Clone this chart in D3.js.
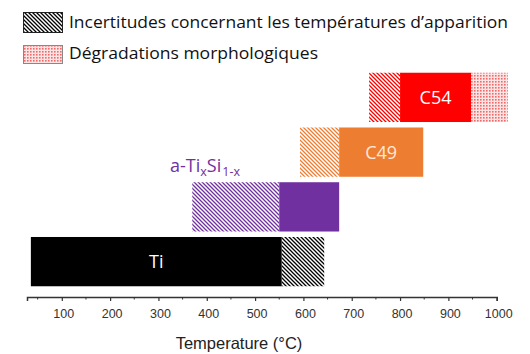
<!DOCTYPE html>
<html>
<head>
<meta charset="utf-8">
<script src="https://cdn.jsdelivr.net/npm/d3@7"></script>
<style>
  body { margin: 0; background: #fff; }
  svg { display: block; }
</style>
</head>
<body>
<svg></svg>
<script>
// phases, top to bottom
const phases = ["C54", "C49", "aTiSi", "Ti"];
const solid_start = [800, 674, 550, 36];
const solid_end = [947, 848, 674, 555];
const hatch_start = [736, 593, 370, 555];
const hatch_end = [800, 674, 550, 643];
const degrad_start = [947, null, null, null];
const degrad_end = [1023, null, null, null];
const colors = ["#ff0000", "#ed7d31", "#7030a0", "#000000"];

const major_ticks = [100, 200, 300, 400, 500, 600, 700, 800, 900, 1000];
const minor_ticks = [50, 150, 250, 350, 450, 550, 650, 750, 850, 950];
const x_label = "Temperature (°C)";
const legend_labels = ["Incertitudes concernant les températures d’apparition", "Dégradations morphologiques"];

const width = 530, height = 354;
const axis_y = 297;

const svg = d3.select("svg").attr("width", width).attr("height", height);
const defs = svg.append("defs");

// diagonal hatch "\" for each colour
colors.forEach((c, i) => {
  const p = defs.append("pattern")
    .attr("id", "hatch" + i)
    .attr("patternUnits", "userSpaceOnUse")
    .attr("width", 4)
    .attr("height", 4);
  p.append("rect").attr("width", 4).attr("height", 4).attr("fill", "#fff");
  p.append("path")
    .attr("d", "M0,0 L4,4 M-1,3 L1,5 M3,-1 L5,1")
    .attr("stroke", c)
    .attr("stroke-width", 1.3);
});

// pink dots
const dots = defs.append("pattern")
  .attr("id", "dots")
  .attr("patternUnits", "userSpaceOnUse")
  .attr("width", 3)
  .attr("height", 3);
dots.append("rect").attr("width", 3).attr("height", 3).attr("fill", "#fde4e4");
dots.append("rect").attr("width", 1.6).attr("height", 1.6).attr("fill", "#f06a6a");

const x_scale = d3.scaleLinear().domain([28, 1000]).range([27, 496.7]);
const y_scale = d3.scaleBand().domain(phases).range([70, 289])
  .paddingInner(0.1).paddingOuter(0.05);

// axis
const x_axis = d3.axisBottom(x_scale)
  .tickValues(major_ticks)
  .tickSize(4)
  .tickPadding(8)
  .tickFormat(d3.format("d"));

const gx = svg.append("g")
  .attr("transform", `translate(0,${axis_y})`)
  .call(x_axis);
gx.select(".domain").attr("stroke", "#333").attr("stroke-width", 1.5);
gx.selectAll(".tick line").attr("stroke", "#333").attr("stroke-width", 1.2);
gx.selectAll(".tick text")
  .attr("fill", "#333")
  .attr("dx", 1.5)
  .style("font-family", "'Liberation Sans', Arial, sans-serif")
  .style("font-size", "12.5px");

gx.selectAll(".minor")
  .data(minor_ticks)
  .enter()
  .append("line")
  .attr("x1", d => x_scale(d))
  .attr("x2", d => x_scale(d))
  .attr("y1", 0)
  .attr("y2", 2.5)
  .attr("stroke", "#333")
  .attr("stroke-width", 1);

svg.append("text")
  .attr("x", 239)
  .attr("y", 349)
  .attr("text-anchor", "middle")
  .attr("fill", "#222")
  .style("font-family", "'Liberation Sans', Arial, sans-serif")
  .style("font-size", "16.5px")
  .text(x_label);

// bars
phases.forEach((p, i) => {
  const y = y_scale(p), h = y_scale.bandwidth();
  svg.append("rect")
    .attr("x", x_scale(hatch_start[i]))
    .attr("y", y)
    .attr("width", x_scale(hatch_end[i]) - x_scale(hatch_start[i]))
    .attr("height", h)
    .attr("fill", `url(#hatch${i})`);
  svg.append("rect")
    .attr("x", x_scale(solid_start[i]))
    .attr("y", y)
    .attr("width", x_scale(solid_end[i]) - x_scale(solid_start[i]))
    .attr("height", h)
    .attr("fill", colors[i]);
  if (degrad_start[i] != null) {
    svg.append("rect")
      .attr("x", x_scale(degrad_start[i]))
      .attr("y", y)
      .attr("width", x_scale(degrad_end[i]) - x_scale(degrad_start[i]))
      .attr("height", h)
      .attr("fill", "url(#dots)");
  }
});

// labels inside bars
const inner_labels = [["C54", 0, "#fff"], ["C49", 1, "#fde9d9"], ["Ti", 3, "#fff"]];
inner_labels.forEach(([t, i, c]) => {
  svg.append("text")
    .attr("x", (x_scale(solid_start[i]) + x_scale(solid_end[i])) / 2)
    .attr("y", y_scale(phases[i]) + y_scale.bandwidth() / 2)
    .attr("dy", "0.36em")
    .attr("text-anchor", "middle")
    .attr("fill", c)
    .style("font-family", "'Open Sans', sans-serif")
    .style("font-size", "18px")
    .text(t);
});

// a-TixSi1-x label
const lab = svg.append("text")
  .attr("x", 170)
  .attr("y", 172)
  .attr("fill", "#7030a0")
  .style("font-family", "'Open Sans', sans-serif")
  .style("font-size", "18px");
lab.append("tspan").text("a-Ti");
lab.append("tspan").attr("dy", 4).style("font-size", "12.5px").text("x");
lab.append("tspan").attr("dy", -4).text("Si");
lab.append("tspan").attr("dy", 4).attr("dx", 1).style("font-size", "12.5px").text("1-x");

// legend
svg.append("rect")
  .attr("x", 23.5).attr("y", 12.5).attr("width", 39).attr("height", 20)
  .attr("fill", "url(#hatch3)").attr("stroke", "#222").attr("stroke-width", 1);
svg.append("rect")
  .attr("x", 23.5).attr("y", 45.5).attr("width", 39).attr("height", 18)
  .attr("fill", "url(#dots)").attr("stroke", "#888").attr("stroke-width", 1);

svg.append("text")
  .attr("x", 69).attr("y", 28)
  .attr("fill", "#111")
  .attr("textLength", 439).attr("lengthAdjust", "spacingAndGlyphs")
  .style("font-family", "'Open Sans', sans-serif")
  .style("font-size", "17px")
  .text(legend_labels[0]);
svg.append("text")
  .attr("x", 69).attr("y", 59)
  .attr("fill", "#111")
  .attr("textLength", 249).attr("lengthAdjust", "spacingAndGlyphs")
  .style("font-family", "'Open Sans', sans-serif")
  .style("font-size", "17px")
  .text(legend_labels[1]);
</script>
</body>
</html>
